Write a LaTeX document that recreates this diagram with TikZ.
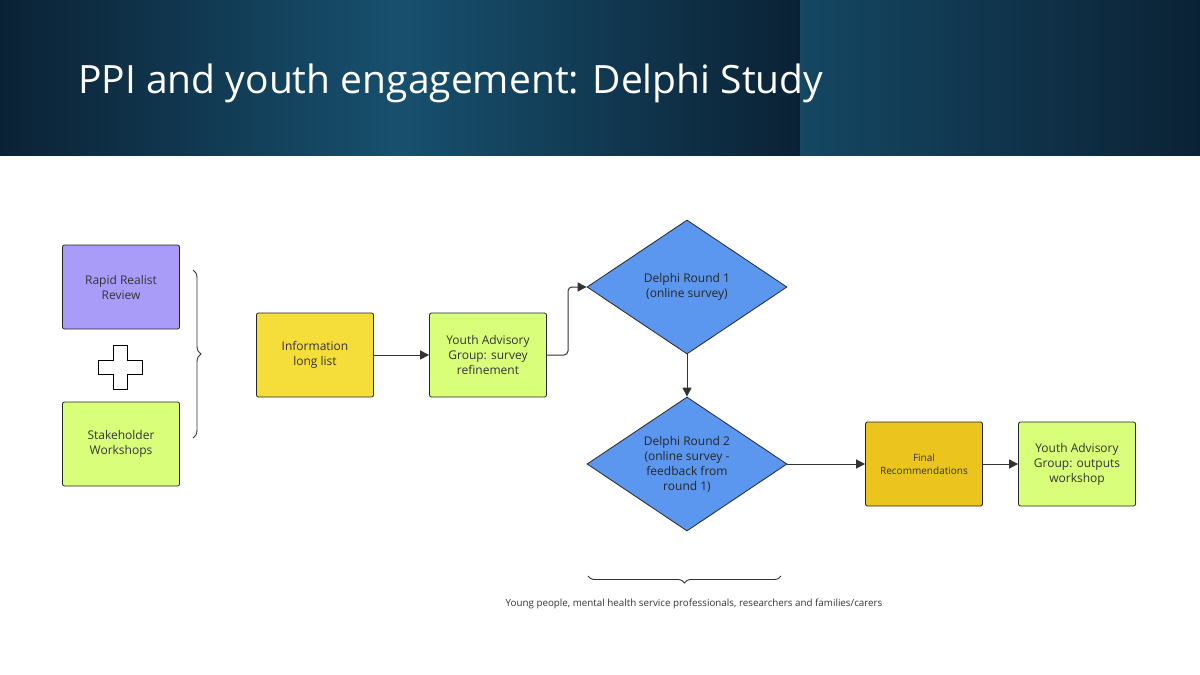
\documentclass[tikz,border=0pt]{standalone}
\usepackage{fontspec}
\setmainfont{Open Sans}
\usetikzlibrary{shapes.geometric,decorations.pathreplacing,arrows.meta}
\definecolor{navy}{HTML}{0B2235}
\definecolor{teal}{HTML}{17506E}
\definecolor{purp}{HTML}{A99CF8}
\definecolor{lime}{HTML}{D9FF7A}
\definecolor{yel}{HTML}{F5DE3A}
\definecolor{gold}{HTML}{EBC51E}
\definecolor{dblue}{HTML}{5B97EF}
\tikzset{
 box/.style={draw=black!85, rounded corners=2pt, line width=0.8pt, minimum width=117pt, minimum height=84pt, align=center, font=\fontsize{12}{15}\selectfont, text=black!80, inner sep=2pt},
 dia/.style={diamond, draw=black!85, line width=0.8pt, fill=dblue, minimum width=200pt, minimum height=134pt, aspect=1.5, align=center, font=\fontsize{12}{15}\selectfont, text=black!85, inner sep=0pt},
 arr/.style={-{Triangle[length=9pt,width=9pt]}, line width=1pt, draw=black!80},
}
\begin{document}
\begin{tikzpicture}[x=1pt,y=-1pt]
\useasboundingbox (0,0) rectangle (1200,675);
\fill[white] (0,0) rectangle (1200,675);
\shade[left color=navy, right color=navy, middle color=teal] (0,0) rectangle (800,155);
\shade[left color=teal!80!navy, right color=navy] (800,0) rectangle (1200,155);
\node[anchor=base west, text=white, font=\fontsize{39}{47}\selectfont, inner sep=0] (title) at (78,93) {PPI and youth engagement: Delphi Study};

\node[box, fill=purp] (rrr) at (121,287) {Rapid Realist\\Review};
\node[box, fill=lime] (sw) at (121,444) {Stakeholder\\Workshops};
\draw[line width=1pt, fill=white] (113,345)--(127,345)--(127,360)--(142,360)--(142,374)--(127,374)--(127,389)--(113,389)--(113,374)--(98,374)--(98,360)--(113,360)--cycle;
\draw[decorate, decoration={brace, amplitude=8pt}, line width=0.9pt, black!80] (193,270) -- (193,438);

\node[box, fill=yel] (info) at (315,355) {Information\\long list};
\node[box, fill=lime] (yag1) at (488,355) {Youth Advisory\\Group: survey\\refinement};
\node[dia] (d1) at (687,287) {Delphi Round 1\\(online survey)};
\node[dia] (d2) at (687,464) {Delphi Round 2\\(online survey -\\feedback from\\round 1)};
\node[box, fill=gold, font=\fontsize{10}{13}\selectfont] (fin) at (924,464) {Final\\Recommendations};
\node[box, fill=lime] (yag2) at (1077,464) {Youth Advisory\\Group: outputs\\workshop};

\draw[arr] (info) -- (yag1);
\draw[arr, rounded corners=4pt] (yag1.east) -- (568,355) -- (568,287) -- (d1.west);
\draw[arr] (d1.south) -- (d2.north);
\draw[arr] (d2.east) -- (fin.west);
\draw[arr] (fin) -- (yag2);

\draw[decorate, decoration={brace, amplitude=7pt, mirror}, line width=0.9pt, black!80] (588,576) -- (781,576);
\node[font=\fontsize{9.8}{12}\selectfont, text=black!80] (note) at (694,604) {Young people, mental health service professionals, researchers and families/carers};
\end{tikzpicture}
\end{document}
